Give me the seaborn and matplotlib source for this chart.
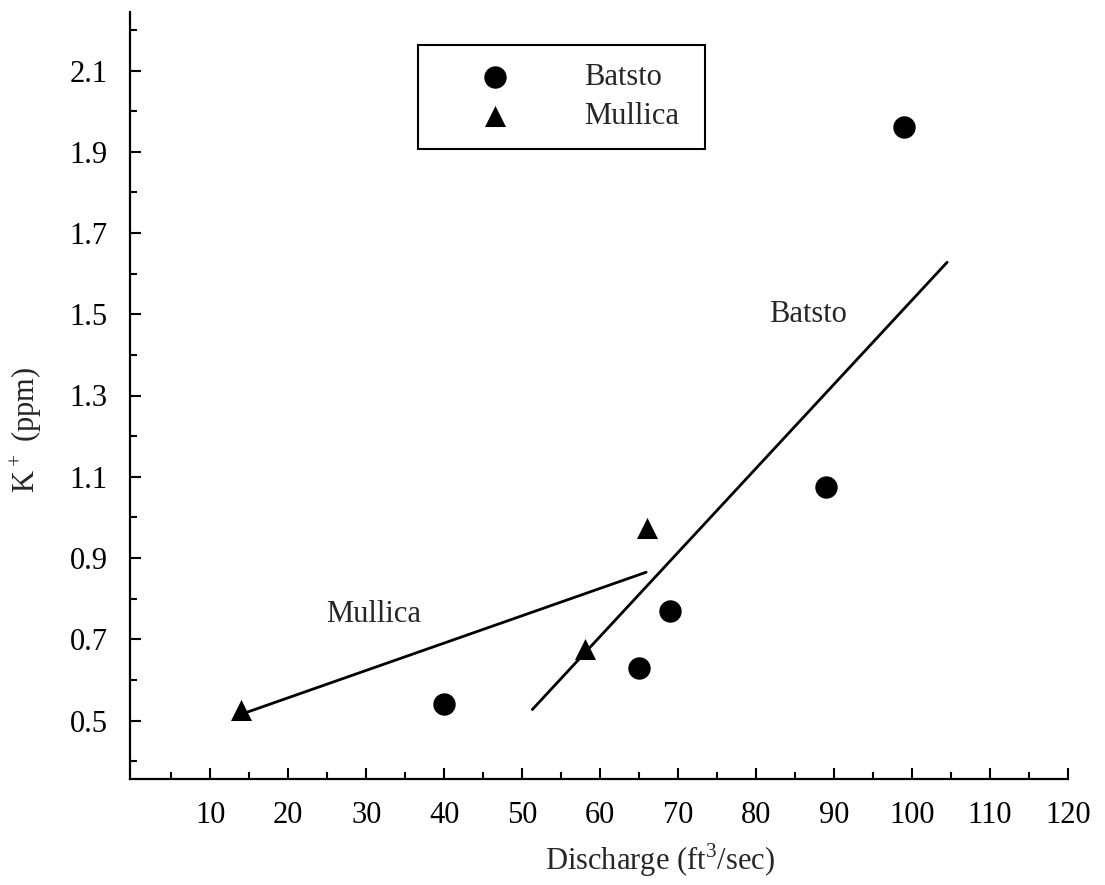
import numpy as np
import pandas as pd
import matplotlib
matplotlib.use("Agg")
import matplotlib.pyplot as plt
import seaborn as sns
from matplotlib.ticker import FixedLocator

# ---- data ----
batsto_x = [40, 65, 69, 89, 99]
batsto_y = [0.54, 0.63, 0.77, 1.075, 1.96]
mullica_x = [14, 58, 66]
mullica_y = [0.525, 0.675, 0.975]

batsto_fit_x = [51.3, 104.5]
batsto_fit_y = [0.527, 1.628]
mullica_fit_x = [14.2, 65.9]
mullica_fit_y = [0.517, 0.865]

x_major = [10, 20, 30, 40, 50, 60, 70, 80, 90, 100, 110, 120]
x_minor = [5, 15, 25, 35, 45, 55, 65, 75, 85, 95, 105, 115]
y_major = [0.5, 0.7, 0.9, 1.1, 1.3, 1.5, 1.7, 1.9, 2.1]
y_minor = [0.4, 0.6, 0.8, 1.0, 1.2, 1.4, 1.6, 1.8, 2.0, 2.2]

sns.set_style("ticks")
plt.rcParams['font.family'] = ['Liberation Serif', 'DejaVu Serif']
plt.rcParams['mathtext.fontset'] = 'custom'
plt.rcParams['mathtext.rm'] = 'Liberation Serif'

FS = 22

fig = plt.figure(figsize=(11.05, 8.85), dpi=100)
ax = fig.add_axes([130/1105, 1-779/885, 938/1105, 767/885])

sns.lineplot(x=batsto_fit_x, y=batsto_fit_y, ax=ax, color='black', lw=2.0)
sns.lineplot(x=mullica_fit_x, y=mullica_fit_y, ax=ax, color='black', lw=2.0)

sns.scatterplot(x=batsto_x, y=batsto_y, ax=ax, marker='o', s=260, color='black',
                edgecolor='black', linewidth=0, label='Batsto', zorder=3)
sns.scatterplot(x=mullica_x, y=mullica_y, ax=ax, marker='^', s=230, color='black',
                edgecolor='black', linewidth=0, label='Mullica', zorder=3)

ax.set_xlim(-0.3, 120)
ax.set_ylim(0.356, 2.244)

sns.despine(ax=ax)
for sp in ['left', 'bottom']:
    ax.spines[sp].set_linewidth(1.6)
    ax.spines[sp].set_color('black')

ax.xaxis.set_major_locator(FixedLocator(x_major))
ax.xaxis.set_minor_locator(FixedLocator(x_minor))
ax.yaxis.set_major_locator(FixedLocator(y_major))
ax.yaxis.set_minor_locator(FixedLocator(y_minor))
ax.set_xticklabels([str(v) for v in x_major])
ax.set_yticklabels([f"{v:.1f}" for v in y_major])

ax.tick_params(axis='both', which='major', direction='in', length=8, width=1.5,
               labelsize=FS, colors='black', pad=16)
ax.tick_params(axis='both', which='minor', direction='in', length=5, width=1.5,
               colors='black')

ax.text(30.9, 0.76, "Mullica", fontsize=FS, ha='center', va='center')
ax.text(86.7, 1.50, "Batsto", fontsize=FS, ha='center', va='center')

fig.text(660/1105, 1-860/885, "Discharge (ft$^3$/sec)", fontsize=FS,
         ha='center', va='center')
fig.text(26/1105, 1-430/885, "K$^+$ (ppm)", fontsize=FS, rotation=90,
         ha='center', va='center')

leg = ax.legend(loc='upper left', bbox_to_anchor=(0.307, 0.957, 0.306, 0.0),
                mode='expand', fontsize=FS, frameon=True, fancybox=False,
                framealpha=1, edgecolor='black', borderpad=0.6,
                labelspacing=0.32, handlelength=3.85, handletextpad=1.0,
                borderaxespad=0)
leg.get_frame().set_linewidth(1.5)

ax.set_xlabel("")
ax.set_ylabel("")

fig.savefig("out.png", dpi=100)
